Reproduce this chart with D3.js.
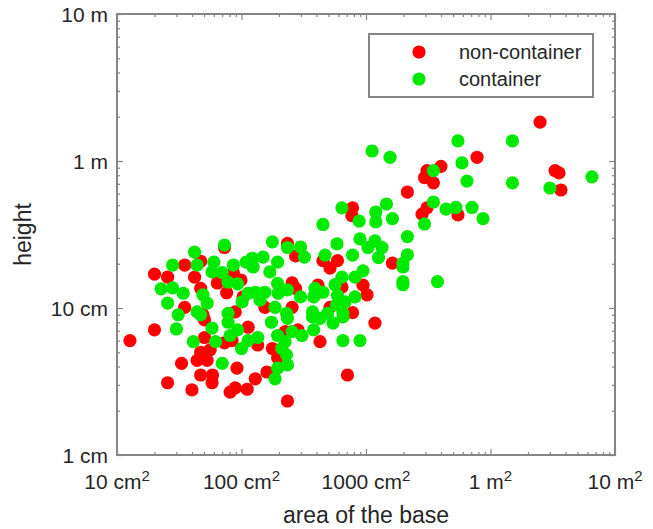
<!DOCTYPE html>
<html>
<head>
<meta charset="utf-8">
<script src="https://cdn.jsdelivr.net/npm/d3@7"></script>
<style>
  body { margin: 0; background: #fff; }
  text { font-family: "Liberation Sans", Arial, sans-serif; fill: #262626; }
</style>
</head>
<body>
<div id="chart"></div>
<script>
// area of the base (cm^2) and height (cm)
var redArea = [25000,7800,3090,4000,2950,3480,33000,35500,36800,2150,3090,2820,5480,1630,780,770,
  234,73,272,451,47,35,20,25.5,42,86,64,99,47,76,35,49,89,103,590,514,641,946,1020,255,272,411,
  154,255,514,780,1180,50.5,20,12.7,50.5,73,84,47,56,44,53,33,92,47,58.5,25.5,58,40,81,89,111,
  129,160,113,135,177,224,284,427,195,710,234];
var redHeight = [184,106,86,92,77,71,86,83,63.5,61.5,48,43.5,43,20.2,48,42.5,
  27.5,25.8,22.6,21,20.8,19.6,17,16.2,16.2,17.4,14.8,15.5,13.6,12.7,10.1,9.0,9.4,11.9,21,18.7,13.9,14.3,12.3,14.8,13.6,14.3,
  10.1,10.1,10.1,9.3,7.9,8.3,7.1,6.0,6.3,5.8,6.0,5.0,5.2,4.4,4.4,4.2,3.9,3.5,3.5,3.1,3.1,2.77,2.68,2.86,2.8,
  3.3,3.67,7.4,5.6,5.3,6.9,7.1,5.9,4.6,3.5,2.33];

var greenArea = [5480,15000,1120,1560,5900,3480,6470,15000,65300,30000,1460,1200,1200,1630,3480,4400,5280,7100,8710,2950,2150,
  1180,1345,1260,2150,1980,1980,1980,1980,3750,641,880,451,
  42,73,177,234,298,320,149,195,109,86,60,44,28,469,58,70,78,93,22.6,28,34,49,25.5,53,44,31,78,101,122,124,169,
  585,895,1038,780,946,641,816,564,451,590,816,195,234,197,154,129,113,298,389,380,141,186,230,372,491,653,580,678,
  47,58,78,93,81,30,41,62,100,70,174,234,372,427,543,653,135,113,195,255,306,224,211,380,653,895,230,234,195,186];
var greenHeight = [137,137,117,106,97,86,73,71,78,65.5,51,45,38.5,40.6,52.6,47,48.3,48.3,40.6,37.3,30.6,
  28.6,25.8,22,23,20.2,19,15.1,14.4,15.1,48,39,37,
  24,26.8,28.2,25.8,26,22.2,22.2,20.5,20.5,19.6,20.5,19.6,19.6,22.9,17.6,17.4,15,14.6,13.5,13.7,12.6,12.3,10.8,10.8,9.4,9.0,9.2,11,21.8,19,17.6,
  27.3,29.5,25.8,22.9,17.9,16.2,16.2,14.4,12.8,12.2,11.9,14.7,13.3,12.6,12.8,12.8,12.6,11.9,13.6,11.9,11.3,10.1,9.2,9.4,9.2,9.2,10.5,11,
  9,7.3,8.0,7.1,6.5,7.2,5.9,5.9,5.3,4.2,8.0,8.5,8.7,8.5,7.9,8.7,6.3,6.0,6.5,6.9,6.5,5.9,5.3,7.1,6.0,6.0,4.8,4.1,3.9,3.3];

var xTickValues = [10, 100, 1000, 10000, 100000];
var xTickLabels = ['10 cm', '100 cm', '1000 cm', '1 m', '10 m'];
var yTickValues = [1, 10, 100, 1000];
var yTickLabels = ['1 cm', '10 cm', '1 m', '10 m'];
var seriesNames = ['non-container', 'container'];
var seriesColors = ['#ff0000', '#00ea00'];

var width = 653, height = 529;
var margin = { left: 117, right: 615, top: 14, bottom: 455 };

var svg = d3.select('#chart').append('svg')
    .attr('width', width)
    .attr('height', height);

var x = d3.scaleLog().domain([10, 100000]).range([margin.left, margin.right]);
var y = d3.scaleLog().domain([1, 1000]).range([margin.bottom, margin.top]);

// minor tick values 2..9 in every decade
function minors(lo, hi) {
  var out = [];
  for (var p = lo; p < hi; p *= 10) {
    for (var k = 2; k <= 9; k++) out.push(p * k);
  }
  return out;
}

var axisColor = '#858585';

function drawTicks(axis, vals, size, tx, ty) {
  svg.append('g')
      .attr('transform', 'translate(' + tx + ',' + ty + ')')
      .call(axis.tickValues(vals).tickSize(size).tickFormat(''))
      .call(function(g) {
        g.select('.domain').remove();
        g.selectAll('line').attr('stroke', axisColor).attr('stroke-width', 1.2);
      });
}

drawTicks(d3.axisBottom(x), xTickValues, -6, 0, margin.bottom);
drawTicks(d3.axisBottom(x), minors(10, 100000), -3, 0, margin.bottom);
drawTicks(d3.axisTop(x), xTickValues, -6, 0, margin.top);
drawTicks(d3.axisTop(x), minors(10, 100000), -3, 0, margin.top);
drawTicks(d3.axisLeft(y), yTickValues, -6, margin.left, 0);
drawTicks(d3.axisLeft(y), minors(1, 1000), -3, margin.left, 0);
drawTicks(d3.axisRight(y), yTickValues, -6, margin.right, 0);
drawTicks(d3.axisRight(y), minors(1, 1000), -3, margin.right, 0);

// box
svg.append('rect')
    .attr('x', margin.left)
    .attr('y', margin.top)
    .attr('width', margin.right - margin.left)
    .attr('height', margin.bottom - margin.top)
    .attr('fill', 'none')
    .attr('stroke', axisColor)
    .attr('stroke-width', 2);

// tick labels
var xl = svg.append('g').selectAll('text').data(xTickValues)
    .enter().append('text')
    .attr('x', function(d) { return x(d); })
    .attr('y', 489)
    .attr('text-anchor', 'middle')
    .style('font-size', '21px');
xl.append('tspan').text(function(d, i) { return xTickLabels[i]; });
xl.append('tspan').attr('dy', -8).style('font-size', '15px').text('2');

svg.append('g').selectAll('text').data(yTickValues)
    .enter().append('text')
    .attr('x', margin.left - 9)
    .attr('y', function(d) { return y(d) + 7.5; })
    .attr('text-anchor', 'end')
    .style('font-size', '21px')
    .text(function(d, i) { return yTickLabels[i]; });

// axis labels
svg.append('text')
    .attr('x', (margin.left + margin.right) / 2)
    .attr('y', 523)
    .attr('text-anchor', 'middle')
    .style('font-size', '23px')
    .text('area of the base');

svg.append('text')
    .attr('transform', 'translate(31,' + ((margin.top + margin.bottom) / 2) + ') rotate(-90)')
    .attr('text-anchor', 'middle')
    .style('font-size', '23px')
    .text('height');

// points, red first then green on top
var series = [
  { area: redArea, h: redHeight },
  { area: greenArea, h: greenHeight }
];

series.forEach(function(s, si) {
  svg.append('g').selectAll('circle').data(s.area)
      .enter().append('circle')
      .attr('cx', function(d) { return x(d); })
      .attr('cy', function(d, i) { return y(s.h[i]); })
      .attr('r', 6.6)
      .attr('fill', seriesColors[si]);
});

// legend
var lg = svg.append('g');
lg.append('rect')
    .attr('x', 369).attr('y', 34)
    .attr('width', 224).attr('height', 63)
    .attr('fill', '#fff')
    .attr('stroke', axisColor)
    .attr('stroke-width', 2);

seriesNames.forEach(function(name, i) {
  lg.append('circle')
      .attr('cx', 419)
      .attr('cy', 52 + i * 27)
      .attr('r', 6.6)
      .attr('fill', seriesColors[i]);
  lg.append('text')
      .attr('x', 459)
      .attr('y', 52 + i * 27 + 7)
      .style('font-size', '20px')
      .text(name);
});
</script>
</body>
</html>
